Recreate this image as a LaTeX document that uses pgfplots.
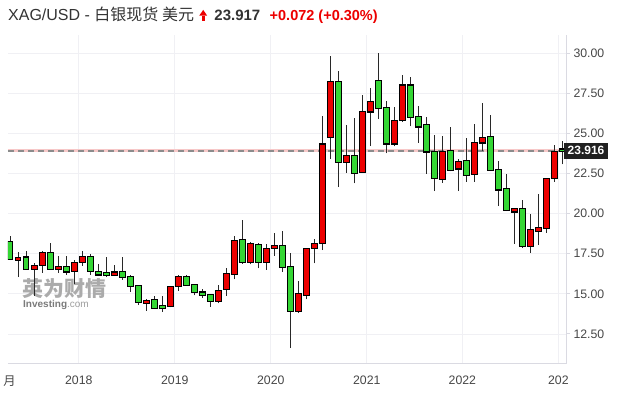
\documentclass[border=0pt]{standalone}
\usepackage{pgfplots}
\pgfplotsset{compat=1.18}
\usepackage{pgfplotstable}
\usepackage{fontspec}
\setmainfont{Liberation Sans}
\newfontfamily\cjk{Noto Sans CJK SC}
\definecolor{upred}{RGB}{236,0,0}
\definecolor{dngreen}{RGB}{52,214,52}
\definecolor{wick}{RGB}{40,40,40}
\definecolor{gridc}{RGB}{240,240,244}
\definecolor{axisc}{RGB}{218,218,226}
\definecolor{txt}{RGB}{70,70,70}
\definecolor{ttl}{RGB}{51,51,51}
\definecolor{pinkl}{RGB}{247,200,200}

% monthly candles, i = months since Apr 2017; up months (red)
\pgfplotstableread{
i O H L C
1 17.10 17.60 16.05 17.24
3 16.58 16.90 14.88 16.72
4 16.78 17.70 16.30 17.53
6 16.55 17.35 16.30 16.68
8 16.42 17.10 15.60 16.90
9 16.97 17.67 16.75 17.28
13 16.18 16.80 16.10 16.33
17 14.41 14.66 13.94 14.56
20 14.23 15.50 14.15 15.43
21 15.47 16.18 15.18 16.05
26 14.56 15.53 14.40 15.20
27 15.28 16.63 14.87 16.22
28 16.22 18.60 15.90 18.27
30 16.97 18.25 16.84 18.08
32 16.97 18.08 16.49 17.77
33 17.84 18.77 17.36 17.96
36 13.94 15.80 13.80 14.98
37 14.91 17.85 14.66 17.77
38 17.84 18.40 16.90 18.08
39 18.15 26.12 17.73 24.31
40 24.77 29.81 23.42 28.19
42 23.21 25.50 22.55 23.59
44 22.61 27.37 22.55 26.33
45 26.37 27.84 24.21 26.95
48 24.38 26.64 24.20 25.80
49 25.87 28.67 25.70 27.99
54 22.14 24.83 21.93 23.84
56 22.82 23.40 21.40 23.21
58 22.45 25.56 21.99 24.38
59 24.44 26.91 23.90 24.69
63 20.14 20.30 18.13 20.27
65 17.96 20.00 17.57 18.96
66 18.93 21.20 18.05 19.08
67 19.12 22.16 18.81 22.14
68 22.20 24.25 21.99 23.86
}\upc

% down months (green)
\pgfplotstableread{
i O H L C
0 18.23 18.62 17.10 17.15
2 17.26 17.65 16.50 16.53
5 17.55 18.15 16.55 16.58
7 16.68 17.35 16.20 16.40
10 17.28 17.48 16.20 16.43
11 16.34 16.84 16.10 16.21
12 16.30 17.30 16.05 16.17
14 16.36 17.30 15.88 16.05
15 16.05 16.16 15.12 15.47
16 15.49 15.55 14.29 14.50
18 14.60 14.87 14.05 14.14
19 14.25 14.87 13.88 14.10
22 16.05 16.18 15.50 15.58
23 15.53 15.64 14.90 15.12
24 15.08 15.28 14.76 14.91
25 14.91 14.95 14.20 14.56
29 18.38 19.58 16.88 16.97
31 18.02 18.20 16.59 16.97
34 17.96 18.92 16.38 16.66
35 16.66 17.53 11.61 13.94
41 28.19 28.88 21.66 23.21
43 23.59 25.97 21.89 22.55
46 28.26 30.02 25.90 26.60
47 26.60 27.05 23.76 24.38
50 27.99 28.50 25.45 26.03
51 26.05 26.74 24.42 25.44
52 25.50 26.02 22.49 23.88
53 23.84 24.88 21.41 22.20
55 23.88 25.39 22.64 22.73
57 23.26 24.69 21.99 22.39
60 24.75 26.18 22.65 22.70
61 22.70 23.28 20.47 21.51
62 21.51 22.45 20.16 20.22
64 20.27 20.85 17.85 17.96
69 24.00 24.52 23.07 23.916
}\dnc

\begin{document}
\begin{tikzpicture}
\begin{axis}[
  scale only axis,
  width=558pt, height=328.6pt,
  xmin=-0.3, xmax=69.45, ymin=10.65, ymax=31.14,
  axis x line*=bottom, axis y line*=right,
  axis line style={draw=axisc, line width=0.9pt},
  grid=major, major grid style={draw=gridc, line width=0.8pt},
  ytick={12.5,15,17.5,20,22.5,25,27.5,30},
  yticklabel style={font=\fontsize{12.3}{12}\selectfont, text=txt,
    /pgf/number format/.cd, fixed, fixed zerofill, precision=2, assume math mode=true},
  ytick style={draw=axisc, line width=0.9pt},
  tick align=outside, major tick length=4pt,
  xtick={8.55,20.55,32.55,44.55,56.5,68.5},
  xticklabels={2018,2019,2020,2021,2022,202},
  xticklabel style={font=\fontsize{12.3}{12}\selectfont, text=txt, yshift=-5pt},
  x tick style={draw=none},
  extra x ticks={-0.1},
  extra x tick labels={{\cjk 月}},
  extra x tick style={grid=none},
]
\coordinate (bl) at (rel axis cs:0,0);
% watermark (behind candles)
\node[anchor=base west, inner sep=0, font=\cjk\bfseries\fontsize{21}{21}\selectfont, text=black!33] at (rel axis cs:0.0251,0.2057) {英为财情};
\node[anchor=base west, inner sep=0, font=\fontsize{10}{10}\selectfont] at (rel axis cs:0.0269,0.1722) {\textbf{\textcolor{black!52}{Investing}}\textcolor{black!38}{.com}};
\addplot[draw=pinkl, line width=3pt, forget plot] coordinates {(-0.3,23.916) (69.45,23.916)};
\addplot[draw=black!45, line width=1.3pt, dash pattern=on 6pt off 4pt, forget plot] coordinates {(-0.3,23.916) (69.45,23.916)};
\coordinate (pl) at (axis cs:69.45,23.916);
% wicks
\addplot[draw=none, mark=none, forget plot, error bars/.cd, y dir=plus, y explicit, error mark=none,
  error bar style={draw=wick, line width=1.2pt}]
  table[x=i, y=L, y error plus expr=\thisrow{H}-\thisrow{L}] {\upc};
\addplot[draw=none, mark=none, forget plot, error bars/.cd, y dir=plus, y explicit, error mark=none,
  error bar style={draw=wick, line width=1.2pt}]
  table[x=i, y=L, y error plus expr=\thisrow{H}-\thisrow{L}] {\dnc};
% body borders
\addplot[draw=none, mark=none, forget plot, error bars/.cd, y dir=both, y explicit, error mark=none,
  error bar style={draw=black, line width=6.2pt}]
  table[x=i, y=O, y error plus expr=\thisrow{C}-\thisrow{O}+0.07, y error minus expr=0.07] {\upc};
\addplot[draw=none, mark=none, forget plot, error bars/.cd, y dir=both, y explicit, error mark=none,
  error bar style={draw=black, line width=6.2pt}]
  table[x=i, y=C, y error plus expr=\thisrow{O}-\thisrow{C}+0.07, y error minus expr=0.07] {\dnc};
% body fills
\addplot[draw=none, mark=none, forget plot, error bars/.cd, y dir=plus, y explicit, error mark=none,
  error bar style={draw=upred, line width=4.2pt}]
  table[x=i, y=O, y error plus expr=\thisrow{C}-\thisrow{O}] {\upc};
\addplot[draw=none, mark=none, forget plot, error bars/.cd, y dir=plus, y explicit, error mark=none,
  error bar style={draw=dngreen, line width=4.2pt}]
  table[x=i, y=C, y error plus expr=\thisrow{O}-\thisrow{C}] {\dnc};
\end{axis}
% current price label
\node[anchor=west, fill=black!87, text=white, inner xsep=3.5pt, inner ysep=0pt, minimum height=16pt,
  font=\bfseries\fontsize{12}{12}\selectfont] at ([xshift=-2pt]pl) {23.916};
\begin{scope}[shift={(bl)}, xshift=-8pt, yshift=-28.4pt, x=1pt, y=1pt]
% page frame (invisible)
\path (0,0) rectangle (625,392);
% title
\node[anchor=base west, inner sep=0, font=\fontsize{16}{16}\selectfont, text=ttl] (t1) at (8,371.3) {XAG/USD - {\cjk 白银现货 美元}};
\end{scope}
\begin{scope}[shift={(t1.base east)}, xshift=5pt, x=1pt, y=1pt]
\fill[upred] (2.6,0) rectangle (5.4,5.2);
\fill[upred] (0,5) -- (8,5) -- (4,10.8) -- cycle;
\end{scope}
\node[anchor=base west, inner sep=0, font=\bfseries\fontsize{15}{15}\selectfont, text=ttl] (t2) at ([xshift=20pt]t1.base east) {23.917};
\node[anchor=base west, inner sep=0, font=\bfseries\fontsize{14.5}{14.5}\selectfont, text=upred] at ([xshift=9pt]t2.base east) {+0.072 (+0.30\%)};
\end{tikzpicture}
\end{document}
